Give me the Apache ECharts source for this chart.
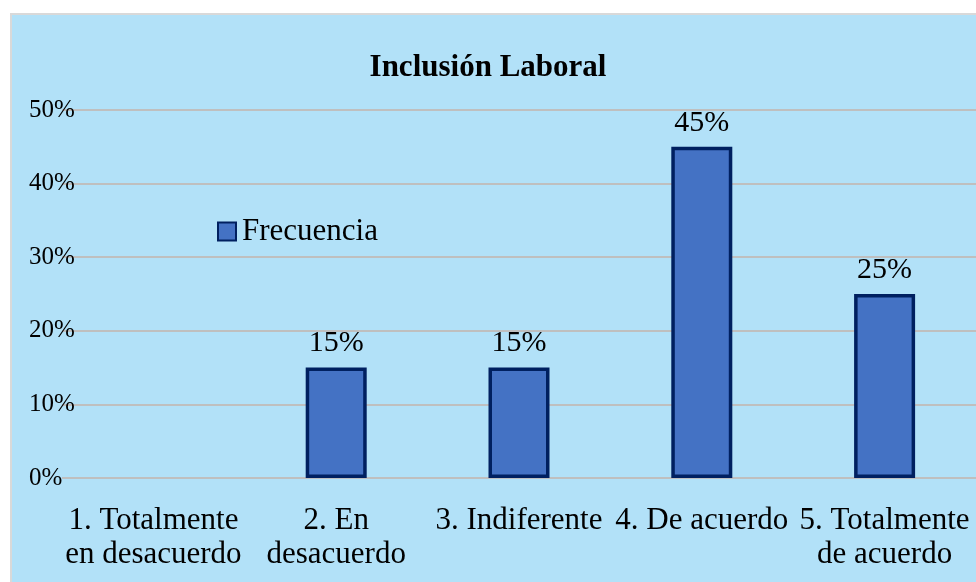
<!DOCTYPE html>
<html>
<head>
<meta charset="utf-8">
<script src="https://cdn.jsdelivr.net/npm/echarts@6/dist/echarts.min.js"></script>
<style>
	html, body { margin: 0; padding: 0; background: #ffffff; }
	#bg { position: absolute; left: 10px; top: 13px; width: 980px; height: 580px;
		background: #b2e1f8; border: 2px solid #d9d9d9; box-sizing: border-box; }
	#main { position: absolute; left: 0; top: 0; width: 976px; height: 582px; }
</style>
</head>
<body>
<div id="bg"></div>
<div id="main"></div>
<script>
// categorias y valores (porcentajes)
var categories = [
	'1. Totalmente\nen desacuerdo',
	'2. En\ndesacuerdo',
	'3. Indiferente',
	'4. De acuerdo',
	'5. Totalmente\nde acuerdo'
];
var frecuencia = [0, 15, 15, 45, 25];
var yTicks = { min: 0, max: 50, interval: 10 };

var serif = 'Liberation Serif';

var chart = echarts.init(document.getElementById('main'));

chart.setOption({
	backgroundColor: 'transparent',
	animation: false,
	title: {
		text: 'Inclusión Laboral',
		left: 'center',
		top: 47,
		textStyle: { fontFamily: serif, fontSize: 31, fontWeight: 'bold', color: '#000' }
	},
	legend: {
		left: 212,
		top: 211,
		itemWidth: 18,
		itemHeight: 18,
		itemGap: 6,
		icon: 'rect',
		textStyle: { fontFamily: serif, fontSize: 31, color: '#000', padding: [0, 0, 0, 1] },
		data: ['Frecuencia']
	},
	grid: { left: 62, right: 0, top: 110, bottom: 104 },
	xAxis: {
		type: 'category',
		data: categories,
		axisLine: { show: false },
		axisTick: { show: false },
		axisLabel: {
			interval: 0,
			margin: 26,
			fontFamily: serif,
			fontSize: 31,
			lineHeight: 34,
			color: '#000'
		}
	},
	yAxis: {
		type: 'value',
		min: yTicks.min,
		max: yTicks.max,
		interval: yTicks.interval,
		axisLine: { show: false },
		axisTick: { show: false },
		splitLine: { lineStyle: { color: '#bfbfbf', width: 2 } },
		axisLabel: {
			formatter: '{value}%',
			align: 'left',
			margin: 33,
			fontFamily: serif,
			fontSize: 25,
			color: '#000'
		}
	},
	series: [{
		name: 'Frecuencia',
		type: 'bar',
		barWidth: 61,
		data: frecuencia.map(function (v) { return v === 0 ? '-' : v; }),
		itemStyle: { color: '#4472c4', borderColor: '#002060', borderWidth: 3.5 },
		label: {
			show: true,
			position: 'top',
			distance: 9,
			formatter: '{c}%',
			fontFamily: serif,
			fontSize: 30,
			color: '#000'
		}
	}]
});
</script>
</body>
</html>
